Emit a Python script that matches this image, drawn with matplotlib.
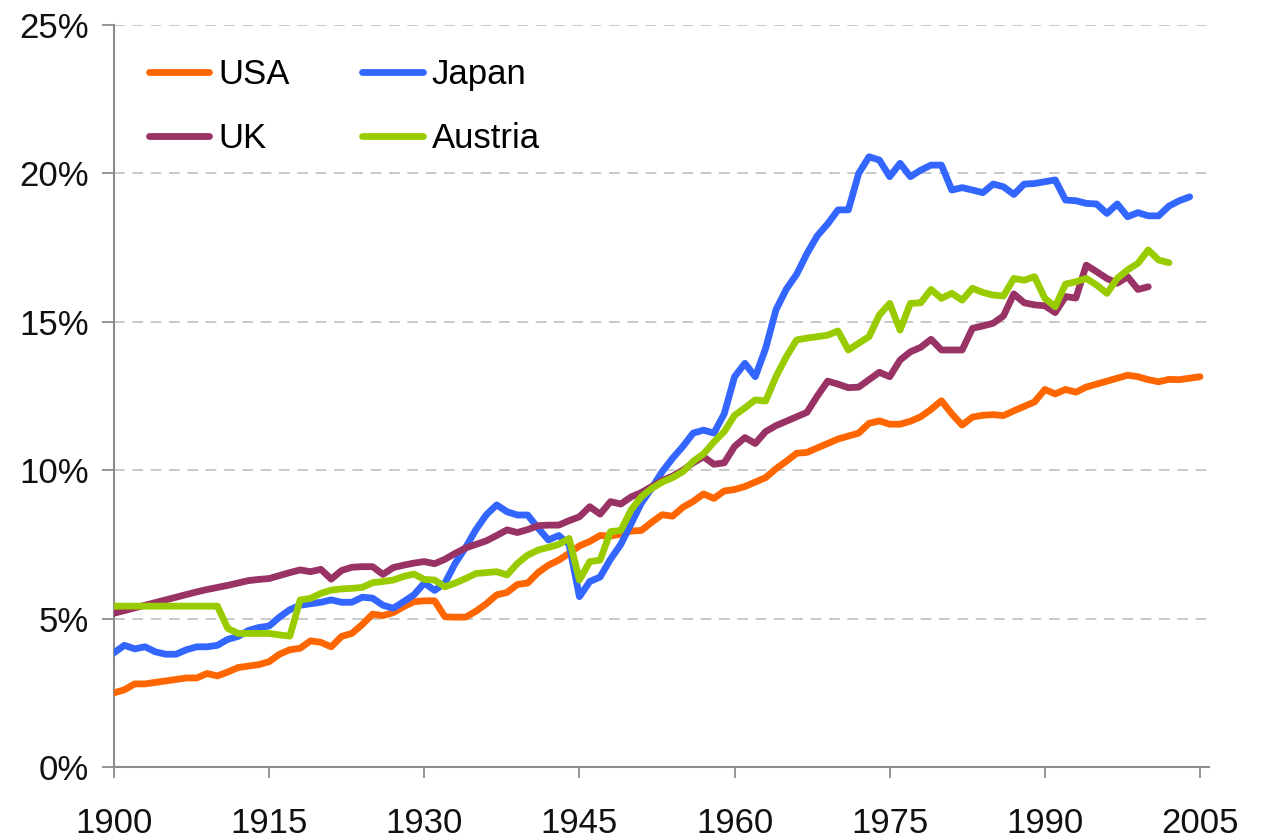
import matplotlib
matplotlib.use("Agg")
import matplotlib.pyplot as plt
from matplotlib.ticker import FuncFormatter

plt.rcParams['font.family'] = ['Liberation Sans', 'DejaVu Sans']

# -------- DATA (share in %) --------
usa_years = list(range(1900, 2006))
usa = [2.5, 2.6, 2.8, 2.8, 2.85, 2.9, 2.95, 3.0, 3.0, 3.15,
       3.07, 3.2, 3.35, 3.4, 3.45, 3.55, 3.8, 3.95, 4.0, 4.25,
       4.2, 4.05, 4.4, 4.5, 4.8, 5.15, 5.1, 5.2, 5.4, 5.57,
       5.6, 5.6, 5.06, 5.05, 5.05, 5.25, 5.5, 5.8, 5.88, 6.15,
       6.2, 6.55, 6.8, 6.97, 7.2, 7.45, 7.6, 7.8, 7.78, 7.85,
       7.95, 7.97, 8.25, 8.5, 8.45, 8.75, 8.95, 9.2, 9.05, 9.3,
       9.35, 9.45, 9.6, 9.75, 10.05, 10.3, 10.57, 10.6, 10.75, 10.9,
       11.05, 11.15, 11.25, 11.58, 11.66, 11.55, 11.55, 11.65, 11.8, 12.05,
       12.34, 11.9, 11.52, 11.79, 11.85, 11.87, 11.84, 12.0, 12.15, 12.3,
       12.72, 12.57, 12.72, 12.63, 12.8, 12.9, 13.0, 13.1, 13.2, 13.15,
       13.05, 12.98, 13.06, 13.05, 13.1, 13.15]

japan_years = list(range(1900, 2005))
japan = [3.85, 4.1, 3.98, 4.05, 3.88, 3.8, 3.8, 3.95, 4.05, 4.05,
         4.1, 4.3, 4.4, 4.6, 4.7, 4.75, 5.05, 5.3, 5.45, 5.5,
         5.55, 5.63, 5.55, 5.55, 5.72, 5.69, 5.45, 5.35, 5.57, 5.8,
         6.2, 5.95, 6.2, 6.87, 7.4, 8.0, 8.5, 8.83, 8.6, 8.49,
         8.49, 8.05, 7.65, 7.8, 7.5, 5.74, 6.25, 6.4, 7.0, 7.5,
         8.2, 8.9, 9.4, 9.95, 10.4, 10.8, 11.25, 11.35, 11.25, 11.9,
         13.15, 13.6, 13.15, 14.1, 15.4, 16.1, 16.6, 17.3, 17.9, 18.3,
         18.77, 18.77, 20.0, 20.56, 20.45, 19.89, 20.34, 19.89, 20.11, 20.28,
         20.28, 19.44, 19.52, 19.44, 19.35, 19.64, 19.55, 19.29, 19.64, 19.66,
         19.72, 19.78, 19.1, 19.08, 18.99, 18.97, 18.65, 18.97, 18.54, 18.68,
         18.57, 18.57, 18.9, 19.08, 19.21]

uk_years = list(range(1900, 2001))
uk = [5.18, 5.27, 5.36, 5.45, 5.54, 5.63, 5.72, 5.81, 5.9, 5.98,
      6.05, 6.12, 6.2, 6.28, 6.32, 6.35, 6.45, 6.55, 6.64, 6.58,
      6.66, 6.33, 6.62, 6.73, 6.75, 6.75, 6.49, 6.72, 6.8, 6.87,
      6.92, 6.85, 7.0, 7.2, 7.38, 7.5, 7.62, 7.8, 7.99, 7.9,
      8.0, 8.13, 8.15, 8.15, 8.3, 8.43, 8.77, 8.52, 8.94, 8.86,
      9.1, 9.25, 9.45, 9.65, 9.8, 10.0, 10.25, 10.45, 10.2, 10.25,
      10.8, 11.1, 10.9, 11.3, 11.5, 11.65, 11.8, 11.95, 12.5, 13.0,
      12.9, 12.78, 12.8, 13.05, 13.3, 13.15, 13.71, 13.99, 14.14, 14.41,
      14.05, 14.05, 14.05, 14.78, 14.86, 14.95, 15.2, 15.94, 15.64, 15.57,
      15.54, 15.31, 15.85, 15.8, 16.91, 16.69, 16.46, 16.3, 16.52, 16.09,
      16.18]

austria_years = list(range(1900, 2003))
austria = [5.42, 5.42, 5.42, 5.42, 5.42, 5.42, 5.42, 5.42, 5.42, 5.42,
           5.42, 4.67, 4.5, 4.5, 4.5, 4.5, 4.45, 4.41, 5.63, 5.68,
           5.85, 5.96, 6.0, 6.02, 6.05, 6.21, 6.25, 6.3, 6.42, 6.5,
           6.32, 6.3, 6.07, 6.2, 6.35, 6.52, 6.55, 6.58, 6.47, 6.86,
           7.14, 7.31, 7.4, 7.5, 7.7, 6.3, 6.92, 6.97, 7.93, 7.97,
           8.66, 9.11, 9.39, 9.6, 9.75, 9.95, 10.3, 10.55, 10.95, 11.3,
           11.85, 12.1, 12.37, 12.33, 13.15, 13.82, 14.39, 14.45, 14.5, 14.55,
           14.69, 14.05, 14.28, 14.5, 15.23, 15.62, 14.72, 15.62, 15.64, 16.09,
           15.79, 15.96, 15.73, 16.13, 15.99, 15.9, 15.87, 16.46, 16.4, 16.52,
           15.79, 15.51, 16.27, 16.35, 16.46, 16.24, 15.96, 16.46, 16.75, 16.97,
           17.42, 17.08, 16.99]

x_ticks = [1900, 1915, 1930, 1945, 1960, 1975, 1990, 2005]
y_ticks = [0, 5, 10, 15, 20, 25]

# -------- FIGURE --------
fig = plt.figure(figsize=(12.63, 8.38), dpi=100)
ax = fig.add_axes([114/1263, 1 - 767/838, 1095/1263, 742/838])

lw = 4.9
l_usa, = ax.plot(usa_years, usa, color='#FF6600', lw=lw, solid_capstyle='round',
                 solid_joinstyle='round', label='USA', zorder=3)
l_jap, = ax.plot(japan_years, japan, color='#3366FF', lw=lw, solid_capstyle='round',
                 solid_joinstyle='round', label='Japan', zorder=4)
l_uk, = ax.plot(uk_years, uk, color='#993366', lw=lw, solid_capstyle='round',
                solid_joinstyle='round', label='UK', zorder=5)
l_aut, = ax.plot(austria_years, austria, color='#99CC00', lw=lw, solid_capstyle='round',
                 solid_joinstyle='round', label='Austria', zorder=6)

ax.set_xlim(1900, 2005.87)
ax.set_ylim(0, 25)
ax.set_xticks(x_ticks)
ax.set_yticks(y_ticks)
ax.yaxis.set_major_formatter(FuncFormatter(lambda v, p: f"{v:.0f}%"))

# dashed gridlines (not at 0)
for v in y_ticks[1:]:
    ax.axhline(v, color='#BBBBBB', lw=1.1, ls=(0, (7, 5)), zorder=1)

for s in ['top', 'right']:
    ax.spines[s].set_visible(False)
for s in ['left', 'bottom']:
    ax.spines[s].set_color('#8C8C8C')
    ax.spines[s].set_linewidth(1.5)

ax.tick_params(axis='y', length=9, width=1.3, color='#8C8C8C', pad=9,
               labelsize=25, labelcolor='#111111')
ax.tick_params(axis='x', length=8, width=1.3, color='#8C8C8C', pad=21,
               labelsize=25, labelcolor='#111111')

# legend: rows USA/Japan, UK/Austria
ax.legend([l_usa, l_uk, l_jap, l_aut], ['USA', 'UK', 'Japan', 'Austria'],
          ncol=2, loc='upper left', bbox_to_anchor=(0.019, 0.974),
          frameon=False, fontsize=25, handlelength=1.75, handletextpad=0.25,
          columnspacing=2.1, labelspacing=0.88, borderaxespad=0)

fig.savefig('out.png', dpi=100)
